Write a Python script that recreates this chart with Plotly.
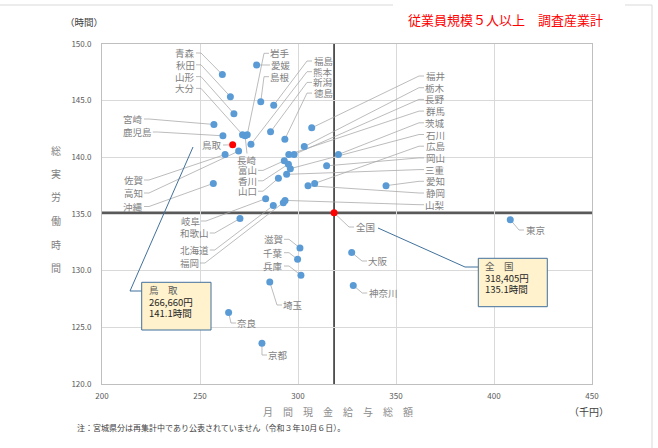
import plotly.graph_objects as go

# 都道府県別 月間現金給与総額（千円）と総実労働時間（時間）
prefs = ["青森", "秋田", "山形", "愛媛", "島根", "福島", "大分", "長崎", "岩手", "新潟",
         "徳島", "福井", "熊本", "栃木", "宮崎", "鹿児島", "高知", "佐賀", "沖縄", "群馬",
         "長野", "富山", "香川", "石川", "三重", "山口", "茨城", "岡山", "広島", "静岡",
         "愛知", "岐阜", "北海道", "山梨", "福岡", "和歌山", "滋賀", "千葉", "兵庫", "埼玉",
         "奈良", "京都", "大阪", "神奈川", "東京"]
wage = [261.4, 265.5, 267.3, 278.9, 281.0, 287.6, 271.7, 273.0, 274.1, 286.0,
        293.3, 307.0, 276.0, 303.2, 257.1, 261.7, 269.7, 262.8, 256.8, 295.3,
        298.0, 293.0, 295.1, 296.1, 294.2, 290.0, 320.6, 314.6, 308.5, 305.1,
        344.9, 283.5, 287.4, 293.4, 292.5, 270.4, 301.0, 299.8, 301.5, 285.6,
        264.6, 281.6, 327.4, 328.2, 408.3]
hours = [147.3, 145.35, 143.85, 148.15, 144.9, 144.6, 142.0, 141.9, 142.0, 142.25,
         141.6, 142.6, 141.15, 140.95, 142.9, 141.9, 140.55, 140.25, 137.7, 140.25,
         140.25, 139.7, 139.4, 139.0, 138.5, 138.15, 140.25, 139.25, 137.7, 137.5,
         137.5, 136.35, 135.75, 136.2, 136.0, 134.6, 132.0, 131.0, 129.6, 129.0,
         126.3, 123.6, 131.6, 128.7, 134.5]

tottori_wage = 266.660
tottori_hours = 141.1
zenkoku_wage = 318.405
zenkoku_hours = 135.1

W, H = 658, 448
L, R, T, B = 102, 66, 44, 64
X_RANGE = (200, 450)
Y_RANGE = (120, 150)

# ラベルの位置（画面上のピクセル）
label_pos = {
    "青森": (185, 53), "秋田": (185, 64.8), "山形": (185, 76.6), "大分": (185, 88.4),
    "岩手": (280, 53.3), "愛媛": (281, 65), "島根": (280, 76.7),
    "福島": (323, 61), "熊本": (323, 71.7), "新潟": (323, 82.4), "徳島": (323, 93.1),
    "宮崎": (133, 119), "鹿児島": (137, 132), "鳥取": (212, 145),
    "長崎": (247, 160), "富山": (247, 170.4), "香川": (247, 180.8), "山口": (247, 191.2),
    "佐賀": (133, 180), "高知": (133, 193), "沖縄": (133, 206.5),
    "福井": (435, 76), "栃木": (435, 87.7), "長野": (435, 99.4), "群馬": (435, 111.1),
    "茨城": (435, 122.8), "石川": (435, 134.5), "広島": (435, 146.2), "岡山": (435, 157.9),
    "三重": (435, 169.6), "愛知": (435, 181.3), "静岡": (435, 193), "山梨": (435, 204.7),
    "岐阜": (190, 221), "和歌山": (194, 233), "北海道": (194, 250), "福岡": (189, 263),
    "滋賀": (273, 239.3), "千葉": (273, 252.7), "兵庫": (273, 266), "埼玉": (293, 305),
    "奈良": (247, 323), "京都": (278, 355),
    "全国": (365, 227), "大阪": (378, 261), "神奈川": (383, 293), "東京": (535, 230),
}

FONT = "Noto Sans CJK JP"
BLUE = "#5B9BD5"
RED = "#FF0000"
LABEL_GRAY = "#7f7f7f"
LABEL_SIZE = 9.5

PW = W - L - R
PH = H - T - B


def to_data(px, py):
    x = X_RANGE[0] + (px - L) / PW * (X_RANGE[1] - X_RANGE[0])
    y = Y_RANGE[1] - (py - T) / PH * (Y_RANGE[1] - Y_RANGE[0])
    return x, y


def to_px(x, y):
    px = L + (x - X_RANGE[0]) / (X_RANGE[1] - X_RANGE[0]) * PW
    py = T + (Y_RANGE[1] - y) / (Y_RANGE[1] - Y_RANGE[0]) * PH
    return px, py


def to_paper(px, py):
    return (px - L) / PW, (H - B - py) / PH


fig = go.Figure()

annotations = []
lead_x, lead_y = [], []


def add_label(name, x, y):
    cx, cy = label_pos[name]
    px, py = to_px(x, y)
    half = len(name) * LABEL_SIZE / 2 + 1.5
    # 引出線（ラベル側に短い水平部分を付ける）
    if abs(px - cx) <= half:
        ey = cy - 6.5 if py < cy else cy + 6.5
        pts = [(cx, ey), (px, py)]
    elif px < cx:
        pts = [(cx - half, cy), (cx - half - 5, cy), (px, py)]
    else:
        pts = [(cx + half, cy), (cx + half + 5, cy), (px, py)]
    for p in pts:
        dx, dy = to_data(*p)
        lead_x.append(dx)
        lead_y.append(dy)
    lead_x.append(None)
    lead_y.append(None)
    lx, ly = to_data(cx, cy)
    annotations.append(dict(
        x=lx, y=ly, xref="x", yref="y", text=name, showarrow=False,
        xanchor="center", yanchor="middle", borderpad=0,
        font=dict(family=FONT, size=LABEL_SIZE, color=LABEL_GRAY),
    ))


for p, xv, yv in zip(prefs, wage, hours):
    add_label(p, xv, yv)
add_label("鳥取", tottori_wage, tottori_hours)
add_label("全国", zenkoku_wage, zenkoku_hours)

fig.add_trace(go.Scatter(x=lead_x, y=lead_y, mode="lines",
                         line=dict(color="#a6a6a6", width=0.75), hoverinfo="skip"))
fig.add_trace(go.Scatter(x=wage, y=hours, mode="markers",
                         marker=dict(color=BLUE, size=7), hoverinfo="skip"))
fig.add_trace(go.Scatter(x=[tottori_wage, zenkoku_wage], y=[tottori_hours, zenkoku_hours],
                         mode="markers", marker=dict(color=RED, size=7), hoverinfo="skip"))

# 全国平均の基準線
fig.add_shape(type="line", x0=X_RANGE[0], x1=X_RANGE[1], y0=zenkoku_hours, y1=zenkoku_hours,
              line=dict(color="#595959", width=2.5), layer="below")
fig.add_shape(type="line", x0=zenkoku_wage, x1=zenkoku_wage, y0=Y_RANGE[0], y1=Y_RANGE[1],
              line=dict(color="#262626", width=1.5), layer="below")


def callout(box, leader, lines):
    x0, y0 = to_data(box[0], box[1])
    x1, y1 = to_data(box[2], box[3])
    pts = [to_data(px, py) for px, py in leader]
    path = "M " + " L ".join(f"{a},{b}" for a, b in pts)
    fig.add_shape(type="path", path=path, line=dict(color="#41719C", width=1), layer="above")
    fig.add_shape(type="rect", x0=x0, x1=x1, y0=y0, y1=y1, fillcolor="#FFF2CC",
                  line=dict(color="#41719C", width=1), layer="above")
    for i, (txt, col) in enumerate(lines):
        tx, ty = to_data(box[0] + 5, box[1] + 8 + 11.5 * i)
        annotations.append(dict(x=tx, y=ty, xref="x", yref="y", text=txt, showarrow=False,
                                xanchor="left", yanchor="middle",
                                font=dict(family=FONT, size=9.5, color=col)))


callout((141.7, 282.3, 211, 330), [(193, 147), (130, 291), (141.7, 291)],
        [("鳥　取", "#595959"),
         (f"{round(tottori_wage * 1000):,}円", "#262626"),
         (f"{tottori_hours:.1f}時間", "#262626")])
callout((478.3, 258.3, 547.3, 306.7), [(378, 228), (465, 267), (478.3, 267)],
        [("全　国", "#595959"),
         (f"{round(zenkoku_wage * 1000):,}円", "#262626"),
         (f"{zenkoku_hours:.1f}時間", "#262626")])


def paper_text(text, px, py, size, color, anchor="center"):
    xp, yp = to_paper(px, py)
    annotations.append(dict(x=xp, y=yp, xref="paper", yref="paper", text=text,
                            showarrow=False, xanchor=anchor, yanchor="middle",
                            font=dict(family=FONT, size=size, color=color)))


paper_text("従業員規模５人以上　調査産業計", 505, 19, 13, RED)
paper_text("（時間）", 84, 22, 9.5, "#404040")
for i, ch in enumerate("総実労働時間"):
    paper_text(ch, 56, 150 + 23.5 * i, 10, "#7f7f7f")
paper_text("　".join("月間現金給与総額"), 338, 411, 10, "#8c8c8c")
paper_text("（千円）", 589, 411, 10, "#404040")
paper_text("注：宮城県分は再集計中であり公表されていません（令和３年10月６日）。", 75, 427, 8,
           "#404040", anchor="left")

# グラフ外枠
for (ax0, ay0, ax1, ay1) in [(0, 5, 393, 5), (625, 5, 652, 5), (652, 5, 652, 448)]:
    p0 = to_paper(ax0, ay0)
    p1 = to_paper(ax1, ay1)
    fig.add_shape(type="line", xref="paper", yref="paper", x0=p0[0], y0=p0[1],
                  x1=p1[0], y1=p1[1], line=dict(color="#d9d9d9", width=1))

fig.update_layout(
    width=W, height=H,
    margin=dict(l=L, r=R, t=T, b=B),
    paper_bgcolor="white", plot_bgcolor="white",
    showlegend=False,
    hovermode=False,
    annotations=annotations,
    font=dict(family=FONT),
    xaxis=dict(range=list(X_RANGE), dtick=50, tick0=200, showgrid=True,
               gridcolor="#d9d9d9", gridwidth=1, zeroline=False,
               showline=True, linecolor="#bfbfbf", mirror=True,
               ticks="", ticklabelstandoff=4,
               tickfont=dict(family=FONT, size=8, color="#595959")),
    yaxis=dict(range=list(Y_RANGE), dtick=5, tick0=120, tickformat=".1f", showgrid=True,
               gridcolor="#d9d9d9", gridwidth=1, zeroline=False,
               showline=True, linecolor="#bfbfbf", mirror=True,
               ticks="", ticklabelstandoff=8,
               tickfont=dict(family=FONT, size=8, color="#595959")),
)

# ページ余白を消して 658x448 にぴったり合わせる
fig.write_html("out.html", config={"displayModeBar": False},
               post_script="document.body.style.margin = '0px';")
